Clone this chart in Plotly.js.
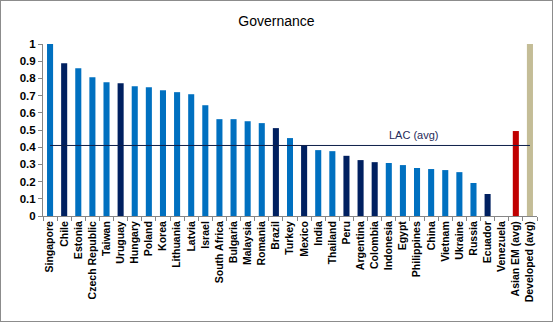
<!DOCTYPE html>
<html><head><meta charset="utf-8">
<script src="https://cdn.plot.ly/plotly-3.0.1.min.js"></script>
<style>
html,body{margin:0;padding:0;background:#fff;}
#chart{position:absolute;left:0;top:0;width:551px;height:320px;border:1px solid #8c8c8c;}
</style></head>
<body><div id="chart"></div>
<script>
const countries = ["Singapore","Chile","Estonia","Czech Republic","Taiwan","Uruguay","Hungary","Poland","Korea","Lithuania","Latvia","Israel","South Africa","Bulgaria","Malaysia","Romania","Brazil","Turkey","Mexico","India","Thailand","Peru","Argentina","Colombia","Indonesia","Egypt","Philippines","China","Vietnam","Ukraine","Russia","Ecuador","Venezuela","Asian EM (avg)","Developed (avg)"];
const governance = [1.0,0.888,0.859,0.807,0.778,0.772,0.755,0.749,0.731,0.72,0.708,0.644,0.563,0.563,0.551,0.54,0.511,0.453,0.41,0.383,0.377,0.35,0.325,0.313,0.308,0.296,0.279,0.273,0.267,0.255,0.192,0.128,0,0.494,1.0];
const group = ["other","LAC","other","other","other","LAC","other","other","other","other","other","other","other","other","other","other","LAC","other","LAC","other","other","LAC","LAC","LAC","other","other","other","other","other","other","other","LAC","LAC","asianEM","developed"];
const lacAvg = 0.41;
const groupColors = {other:"#0070C0", LAC:"#002060", asianEM:"#C00000", developed:"#C4BD97"};

const barColors = group.map(g => groupColors[g]);

const traces = [
  {type:"bar", x:countries, y:governance, marker:{color:barColors}, hoverinfo:"x+y", showlegend:false},
  {type:"scatter", mode:"lines", x:[countries[0], countries[countries.length-1]], y:[lacAvg, lacAvg],
   line:{color:"#0d1f4a", width:1}, showlegend:false, hoverinfo:"skip"}
];

const layout = {
  width:551, height:320,
  margin:{l:42, r:15, t:43, b:105},
  paper_bgcolor:"#fff", plot_bgcolor:"#fff",
  bargap:0.57,
  font:{family:"Liberation Sans Narrow, Liberation Sans, Arial, sans-serif", color:"#000"},
  title:{text:"Governance", font:{family:"Liberation Sans, Arial, sans-serif", size:14, color:"#000"},
         x:0.5, xref:"container", y:0.937, yref:"container", yanchor:"middle"},
  xaxis:{type:"category", tickangle:-90, tickson:"boundaries", ticks:"outside", ticklen:4, tickcolor:"#868686",
         showline:true, linecolor:"#868686", linewidth:1, showgrid:false,
         tickfont:{size:10.5, color:"#000", weight:"bold"}, automargin:false},
  yaxis:{range:[0,1], dtick:0.1, tick0:0, ticks:"outside", ticklen:4, tickcolor:"#868686",
         showline:true, linecolor:"#868686", linewidth:1, showgrid:false, zeroline:false,
         tickfont:{size:11.5, color:"#000", family:"Liberation Sans, Arial, sans-serif", weight:"bold"}, automargin:false},
  annotations:[{x:25.75, y:lacAvg, xref:"x", yref:"y", text:"LAC (avg)", showarrow:false, yanchor:"bottom", yshift:2,
                font:{size:11, color:"#1f2a5a", family:"Liberation Sans Narrow, Liberation Sans, Arial, sans-serif"}}]
};

Plotly.newPlot("chart", traces, layout, {displayModeBar:false, staticPlot:true});
</script>
</body></html>
